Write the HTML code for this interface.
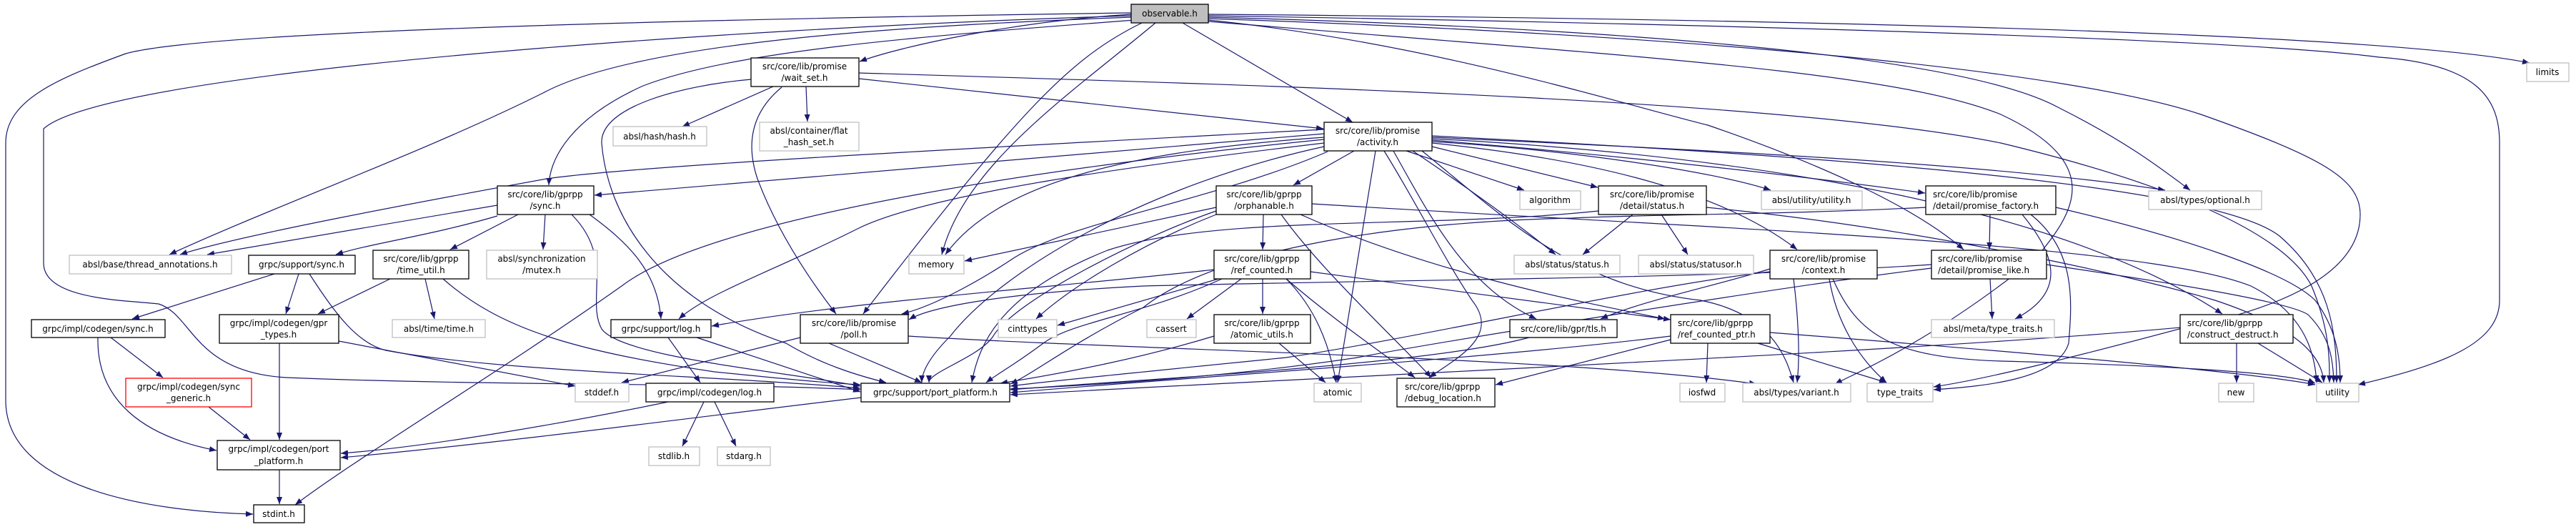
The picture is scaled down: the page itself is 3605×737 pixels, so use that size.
<!DOCTYPE html>
<html><head><meta charset="utf-8"><style>
html,body{margin:0;padding:0;background:#fff;}
svg{display:block;}
text{font-family:"DejaVu Sans","Liberation Sans",sans-serif;font-size:12px;fill:#000;}
.e{fill:none;stroke:#191970;stroke-width:1.2;marker-end:url(#a);}
.b{fill:#fff;stroke:#000;stroke-width:1.3;}
.g{fill:#fff;stroke:#bfbfbf;stroke-width:1.3;}
</style></head><body>
<svg width="3605" height="737" viewBox="0 0 3605 737" xmlns="http://www.w3.org/2000/svg">
<defs><marker id="a" markerUnits="userSpaceOnUse" markerWidth="11" markerHeight="8" refX="10" refY="4" orient="auto"><path d="M0,0 L10,4 L0,8 z" fill="#191970"/></marker></defs>

<!-- edges from observable.h -->
<path class="e" d="M1583,20 C1420,30 1260,65 1203,86"/>
<path class="e" d="M1655,32 L1893,171"/>
<path class="e" d="M1588,28 C1300,50 1030,70 900,120 C800,165 770,220 768,259"/>
<path class="e" d="M1583,24 C1300,35 900,55 760,130 C600,210 380,290 237,356"/>
<path class="e" d="M1583,18 C1100,25 300,40 176,75 C80,110 8,140 8,200 L8,560 C8,680 200,715 354,719"/>
<path class="e" d="M1583,22 C1000,40 150,100 61,180 L61,368 C61,420 180,420 222,425 C270,440 270,520 400,528 C700,540 1000,535 1204,545"/>
<path class="e" d="M1598,32 C1500,80 1430,150 1208,439"/>
<path class="e" d="M1617,32 C1500,130 1350,230 1318,356"/>
<path class="e" d="M1691,20 C2300,25 3300,40 3540,88"/>
<path class="e" d="M1691,22 C2200,30 3100,50 3330,80 C3470,90 3498,140 3498,200 L3498,420 C3498,480 3420,510 3300,538"/>
<path class="e" d="M1691,24 C2300,40 2750,80 2880,150 C2980,200 3030,240 3065,266"/>
<path class="e" d="M1691,28 C2000,60 2250,140 2390,175 C2550,230 2680,290 2748,349"/>
<path class="e" d="M1691,26 C2400,50 2900,100 3080,160 C3250,220 3303,250 3303,300 C3303,380 3200,430 3050,460 C2900,500 2780,530 2706,541"/>
<path class="e" d="M1691,30 C2300,80 2650,100 2800,160 C2950,230 2900,300 2850,360 C2700,480 2600,520 2568,537"/>

<!-- wait_set -->
<path class="e" d="M1202,110 L1852,180"/>
<path class="e" d="M1082,121 L955,177"/>
<path class="e" d="M1128,121 L1130,170"/>
<path class="e" d="M1094,122 C1060,150 1040,190 1060,250 C1090,330 1140,400 1170,439"/>
<path class="e" d="M1051,111 C950,120 840,150 842,200 C850,300 920,420 1100,480 C1150,510 1200,525 1240,535"/>
<path class="e" d="M1202,102 C1800,120 2500,140 2800,200 C3050,260 3200,330 3235,400 C3260,460 3260,500 3260,535"/>

<!-- activity -->
<path class="e" d="M1853,187 L832,273"/>
<path class="e" d="M1853,181 C1500,200 900,230 765,250 C600,280 330,330 252,356"/>
<path class="e" d="M1853,200 C1600,230 1300,270 1200,320 C1080,380 990,410 950,446"/>
<path class="e" d="M1853,195 C1500,230 1000,300 870,400 C700,520 500,640 413,706"/>
<path class="e" d="M1853,205 C1600,260 1400,380 1330,470 C1300,500 1290,520 1290,535"/>
<path class="e" d="M1858,212 C1700,280 1500,310 1420,360 C1360,400 1300,430 1262,439"/>
<path class="e" d="M1895,211 L1810,259"/>
<path class="e" d="M1853,192 C1600,210 1400,250 1323,356"/>
<path class="e" d="M1968,211 L2133,266"/>
<path class="e" d="M2004,205 L2236,262"/>
<path class="e" d="M1977,211 C2050,260 2120,310 2177,356"/>
<path class="e" d="M1925,211 L1872,535"/>
<path class="e" d="M1937,211 C1980,280 2020,360 2060,420 C2100,470 2040,500 2000,528"/>
<path class="e" d="M1950,211 C2000,300 2050,400 2150,446"/>
<path class="e" d="M2004,200 C2200,220 2400,260 2515,349"/>
<path class="e" d="M2004,196 C2300,220 2550,250 2694,270"/>
<path class="e" d="M2004,192 C2400,210 2800,230 3030,266"/>
<path class="e" d="M2004,198 C2200,210 2400,240 2478,266"/>
<path class="e" d="M2004,194 C2500,220 2900,300 3110,439"/>
<path class="e" d="M2004,190 C2600,220 3100,260 3190,330 C3260,390 3270,460 3270,535"/>
<path class="e" d="M1990,211 C2100,300 2200,400 2380,420 C2480,440 2500,500 2510,535"/>

<!-- orphanable -->
<path class="e" d="M1702,290 L1350,365"/>
<path class="e" d="M1702,295 C1600,330 1420,420 1390,470 C1370,500 1300,520 1300,535"/>
<path class="e" d="M1702,300 C1600,340 1500,400 1450,446"/>
<path class="e" d="M1768,300 L1767,349"/>
<path class="e" d="M1793,300 C1850,380 1960,480 2003,528"/>
<path class="e" d="M1820,300 C2000,380 2200,420 2330,446"/>
<path class="e" d="M1836,285 C2400,320 3000,340 3150,400 C3230,440 3240,500 3242,535"/>

<!-- detail/status -->
<path class="e" d="M2285,300 L2215,356"/>
<path class="e" d="M2325,300 L2362,356"/>
<path class="e" d="M2388,290 C2700,320 3000,390 3100,420 C3220,460 3250,500 3252,535"/>
<path class="e" d="M2237,295 C2000,320 1700,300 1550,350 C1400,410 1370,480 1360,535"/>

<!-- promise_factory -->
<path class="e" d="M2785,300 L2784,349"/>
<path class="e" d="M2830,300 C2880,360 2890,410 2820,446"/>
<path class="e" d="M2842,300 C2905,350 2900,420 2895,480 C2880,530 2780,540 2706,545"/>
<path class="e" d="M2877,290 C3050,330 3200,380 3240,420 C3270,460 3275,500 3275,535"/>
<path class="e" d="M2695,290 C2500,300 2300,300 2200,305 C1950,310 1700,350 1600,430 C1500,480 1450,520 1414,537"/>

<!-- promise_like -->
<path class="e" d="M2785,390 L2788,446"/>
<path class="e" d="M2864,370 C3000,390 3200,420 3230,440 C3260,470 3265,500 3266,535"/>
<path class="e" d="M2703,375 C2500,400 2000,480 1900,500 C1700,530 1500,540 1414,544"/>
<path class="e" d="M2703,370 C2400,390 2000,390 1600,400 C1400,410 1300,430 1272,447"/>

<!-- context -->
<path class="e" d="M2477,376 C2400,400 2300,420 2240,446"/>
<path class="e" d="M2560,390 C2570,450 2600,500 2640,535"/>
<path class="e" d="M2565,390 C2600,470 2650,500 2800,505 C3000,510 3200,520 3240,536"/>
<path class="e" d="M2510,390 C2515,430 2520,490 2515,535"/>
<path class="e" d="M2477,380 C2300,400 2000,470 1800,500 C1600,520 1450,535 1414,540"/>

<!-- ref_counted -->
<path class="e" d="M1699,377 C1500,400 1200,420 996,456"/>
<path class="e" d="M1737,390 L1661,446"/>
<path class="e" d="M1767,390 L1767,439"/>
<path class="e" d="M1705,390 L1480,455"/>
<path class="e" d="M1710,390 C1600,440 1500,450 1460,480 C1420,510 1400,520 1380,535"/>
<path class="e" d="M1800,390 C1840,430 1860,480 1870,535"/>
<path class="e" d="M1800,390 C1870,450 1930,490 1980,528"/>
<path class="e" d="M1834,380 L2338,447"/>

<!-- atomic_utils, tls, rcptr, construct -->
<path class="e" d="M1699,470 C1600,500 1500,520 1400,536"/>
<path class="e" d="M1790,480 L1855,535"/>
<path class="e" d="M2140,472 C2000,510 1600,530 1414,545"/>
<path class="e" d="M2390,480 L2388,535"/>
<path class="e" d="M2338,475 L2093,538"/>
<path class="e" d="M2338,470 C2100,500 1700,525 1414,549"/>
<path class="e" d="M2460,480 L2640,535"/>
<path class="e" d="M2477,465 C2800,490 3150,520 3240,538"/>
<path class="e" d="M3130,480 L3130,535"/>
<path class="e" d="M3160,480 L3250,535"/>
<path class="e" d="M3051,458 C2700,490 2000,520 1414,552"/>

<!-- poll -->
<path class="e" d="M1160,480 L1290,535"/>
<path class="e" d="M1120,472 L870,535"/>
<path class="e" d="M1271,470 C1600,490 2200,500 2458,537"/>

<!-- gprpp sync -->
<path class="e" d="M696,287 L290,356"/>
<path class="e" d="M696,302 C600,330 520,340 470,356"/>
<path class="e" d="M725,300 L630,349"/>
<path class="e" d="M763,300 L760,349"/>
<path class="e" d="M825,300 C880,340 920,380 925,446"/>
<path class="e" d="M800,300 C860,360 820,420 842,460 C870,500 1100,520 1204,540"/>

<!-- grpc/support/sync -->
<path class="e" d="M384,383 L185,446"/>
<path class="e" d="M418,383 L400,439"/>
<path class="e" d="M433,383 C470,440 500,480 540,490 C700,520 1000,525 1204,543"/>

<!-- time_util -->
<path class="e" d="M546,390 L445,439"/>
<path class="e" d="M595,390 L608,446"/>
<path class="e" d="M620,390 C700,460 800,490 1000,520 C1100,530 1150,535 1204,538"/>

<!-- gpr_types, codegen sync, generic -->
<path class="e" d="M391,480 L391,615"/>
<path class="e" d="M474,477 L805,540"/>
<path class="e" d="M155,472 L228,528"/>
<path class="e" d="M137,472 C135,560 200,610 303,630"/>
<path class="e" d="M292,569 L350,615"/>

<!-- log -->
<path class="e" d="M935,472 L980,535"/>
<path class="e" d="M975,472 L1204,548"/>
<path class="e" d="M985,562 L955,624"/>
<path class="e" d="M1000,562 L1030,624"/>
<path class="e" d="M935,562 C800,590 600,625 477,634"/>
<path class="e" d="M1205,556 C1000,580 700,620 477,640"/>
<path class="e" d="M391,657 L391,705"/>

<!-- nodes -->
<rect class="b" x="1583" y="6" width="108" height="26" style="fill:#bfbfbf"/><text x="1637" y="23" text-anchor="middle">observable.h</text>
<rect class="b" x="1051" y="81" width="151" height="40"/><text x="1126" y="97" text-anchor="middle">src/core/lib/promise</text><text x="1126" y="113" text-anchor="middle">/wait_set.h</text>
<rect class="g" x="858" y="177" width="131" height="27"/><text x="923" y="195" text-anchor="middle">absl/hash/hash.h</text>
<rect class="g" x="1063" y="171" width="139" height="40"/><text x="1132" y="187" text-anchor="middle">absl/container/flat</text><text x="1132" y="203" text-anchor="middle">_hash_set.h</text>
<rect class="b" x="1853" y="171" width="151" height="40"/><text x="1928" y="187" text-anchor="middle">src/core/lib/promise</text><text x="1928" y="203" text-anchor="middle">/activity.h</text>
<rect class="b" x="696" y="260" width="135" height="40"/><text x="763" y="276" text-anchor="middle">src/core/lib/gprpp</text><text x="763" y="292" text-anchor="middle">/sync.h</text>
<rect class="b" x="1702" y="260" width="134" height="40"/><text x="1769" y="276" text-anchor="middle">src/core/lib/gprpp</text><text x="1769" y="292" text-anchor="middle">/orphanable.h</text>
<rect class="g" x="2127" y="267" width="85" height="26"/><text x="2169" y="284" text-anchor="middle">algorithm</text>
<rect class="b" x="2237" y="260" width="151" height="40"/><text x="2312" y="276" text-anchor="middle">src/core/lib/promise</text><text x="2312" y="292" text-anchor="middle">/detail/status.h</text>
<rect class="g" x="2465" y="267" width="141" height="26"/><text x="2535" y="284" text-anchor="middle">absl/utility/utility.h</text>
<rect class="b" x="2695" y="260" width="182" height="40"/><text x="2705" y="276">src/core/lib/promise</text><text x="2705" y="292">/detail/promise_factory.h</text>
<rect class="g" x="3007" y="267" width="158" height="26"/><text x="3086" y="284" text-anchor="middle">absl/types/optional.h</text>
<rect class="g" x="3536" y="88" width="59" height="26"/><text x="3565" y="105" text-anchor="middle">limits</text>
<rect class="g" x="97" y="357" width="227" height="26"/><text x="210" y="374" text-anchor="middle">absl/base/thread_annotations.h</text>
<rect class="b" x="348" y="357" width="149" height="26"/><text x="422" y="374" text-anchor="middle">grpc/support/sync.h</text>
<rect class="b" x="522" y="350" width="134" height="40"/><text x="589" y="366" text-anchor="middle">src/core/lib/gprpp</text><text x="589" y="382" text-anchor="middle">/time_util.h</text>
<rect class="g" x="681" y="350" width="155" height="40"/><text x="758" y="366" text-anchor="middle">absl/synchronization</text><text x="758" y="382" text-anchor="middle">/mutex.h</text>
<rect class="g" x="1272" y="357" width="77" height="26"/><text x="1310" y="374" text-anchor="middle">memory</text>
<rect class="b" x="1699" y="350" width="135" height="40"/><text x="1766" y="366" text-anchor="middle">src/core/lib/gprpp</text><text x="1766" y="382" text-anchor="middle">/ref_counted.h</text>
<rect class="g" x="2119" y="357" width="148" height="26"/><text x="2193" y="374" text-anchor="middle">absl/status/status.h</text>
<rect class="g" x="2293" y="357" width="161" height="26"/><text x="2373" y="374" text-anchor="middle">absl/status/statusor.h</text>
<rect class="b" x="2477" y="350" width="150" height="40"/><text x="2552" y="366" text-anchor="middle">src/core/lib/promise</text><text x="2552" y="382" text-anchor="middle">/context.h</text>
<rect class="b" x="2703" y="350" width="161" height="40"/><text x="2712" y="366">src/core/lib/promise</text><text x="2712" y="382">/detail/promise_like.h</text>
<rect class="b" x="44" y="447" width="187" height="25"/><text x="137" y="464" text-anchor="middle">grpc/impl/codegen/sync.h</text>
<rect class="b" x="307" y="440" width="167" height="40"/><text x="390" y="456" text-anchor="middle">grpc/impl/codegen/gpr</text><text x="390" y="472" text-anchor="middle">_types.h</text>
<rect class="g" x="549" y="447" width="130" height="25"/><text x="614" y="464" text-anchor="middle">absl/time/time.h</text>
<rect class="b" x="855" y="447" width="140" height="25"/><text x="925" y="464" text-anchor="middle">grpc/support/log.h</text>
<rect class="b" x="1120" y="440" width="151" height="40"/><text x="1195" y="456" text-anchor="middle">src/core/lib/promise</text><text x="1195" y="472" text-anchor="middle">/poll.h</text>
<rect class="g" x="1397" y="447" width="82" height="25"/><text x="1438" y="464" text-anchor="middle">cinttypes</text>
<rect class="g" x="1605" y="447" width="69" height="25"/><text x="1639" y="464" text-anchor="middle">cassert</text>
<rect class="b" x="1699" y="440" width="135" height="40"/><text x="1766" y="456" text-anchor="middle">src/core/lib/gprpp</text><text x="1766" y="472" text-anchor="middle">/atomic_utils.h</text>
<rect class="b" x="2113" y="447" width="150" height="25"/><text x="2188" y="464" text-anchor="middle">src/core/lib/gpr/tls.h</text>
<rect class="b" x="2338" y="440" width="139" height="40"/><text x="2348" y="456">src/core/lib/gprpp</text><text x="2348" y="472">/ref_counted_ptr.h</text>
<rect class="g" x="2703" y="447" width="172" height="25"/><text x="2789" y="464" text-anchor="middle">absl/meta/type_traits.h</text>
<rect class="b" x="3051" y="440" width="158" height="40"/><text x="3061" y="456">src/core/lib/gprpp</text><text x="3061" y="472">/construct_destruct.h</text>
<rect class="b" x="176" y="529" width="176" height="40" style="stroke:#ff0000"/><text x="264" y="545" text-anchor="middle">grpc/impl/codegen/sync</text><text x="264" y="561" text-anchor="middle">_generic.h</text>
<rect class="g" x="805" y="536" width="75" height="26"/><text x="842" y="553" text-anchor="middle">stddef.h</text>
<rect class="b" x="904" y="536" width="179" height="26"/><text x="993" y="553" text-anchor="middle">grpc/impl/codegen/log.h</text>
<rect class="b" x="1205" y="536" width="208" height="26"/><text x="1309" y="553" text-anchor="middle">grpc/support/port_platform.h</text>
<rect class="g" x="1839" y="536" width="66" height="26"/><text x="1872" y="553" text-anchor="middle">atomic</text>
<rect class="b" x="1955" y="529" width="137" height="40"/><text x="1966" y="545">src/core/lib/gprpp</text><text x="1966" y="561">/debug_location.h</text>
<rect class="g" x="2351" y="536" width="63" height="26"/><text x="2382" y="553" text-anchor="middle">iosfwd</text>
<rect class="g" x="2439" y="536" width="151" height="26"/><text x="2514" y="553" text-anchor="middle">absl/types/variant.h</text>
<rect class="g" x="2613" y="536" width="92" height="26"/><text x="2659" y="553" text-anchor="middle">type_traits</text>
<rect class="g" x="3105" y="536" width="49" height="26"/><text x="3129" y="553" text-anchor="middle">new</text>
<rect class="g" x="3242" y="536" width="59" height="26"/><text x="3271" y="553" text-anchor="middle">utility</text>
<rect class="b" x="304" y="616" width="172" height="41"/><text x="390" y="632" text-anchor="middle">grpc/impl/codegen/port</text><text x="390" y="649" text-anchor="middle">_platform.h</text>
<rect class="g" x="908" y="625" width="71" height="26"/><text x="943" y="642" text-anchor="middle">stdlib.h</text>
<rect class="g" x="1004" y="625" width="74" height="26"/><text x="1041" y="642" text-anchor="middle">stdarg.h</text>
<rect class="b" x="355" y="706" width="71" height="25"/><text x="390" y="723" text-anchor="middle">stdint.h</text>
</svg>
</body></html>
